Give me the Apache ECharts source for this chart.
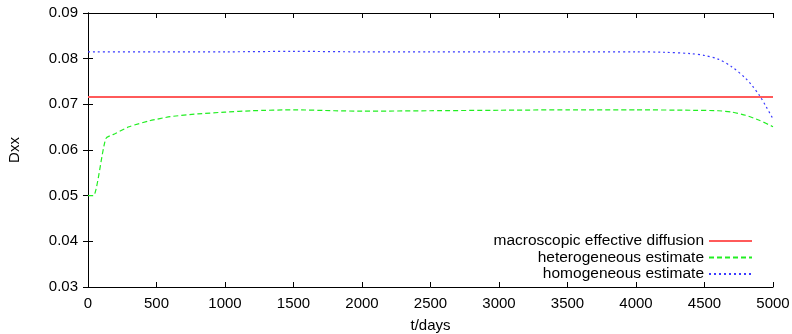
<!DOCTYPE html>
<html>
<head>
<meta charset="utf-8">
<script src="https://cdn.jsdelivr.net/npm/echarts@6/dist/echarts.min.js"></script>
<style>
html, body { margin: 0; padding: 0; background: #fff; }
#chart { width: 792px; height: 334px; }
</style>
</head>
<body>
<div id="chart"></div>
<script>
// macroscopic effective diffusion (constant)
var macroT = [0, 5000];
var macroD = [0.0716, 0.0716];

// heterogeneous estimate
var hetT = [0, 40, 130, 200, 300, 450, 600, 800, 1000, 1200, 1500, 1800, 2000, 2500, 3000, 3500, 4000, 4400, 4600, 4700, 4800, 4900, 5000];
var hetD = [0.0500, 0.0500, 0.0625, 0.0636, 0.0651, 0.0664, 0.0673, 0.0679, 0.0683, 0.0686, 0.0688, 0.0686, 0.0685, 0.0686, 0.0687, 0.0688, 0.0688, 0.0687, 0.0686, 0.0683, 0.0676, 0.0665, 0.0651];

// homogeneous estimate
var homT = [0, 500, 1000, 1500, 2000, 2500, 3000, 3500, 4000, 4200, 4400, 4500, 4600, 4700, 4800, 4850, 4900, 4950, 5000];
var homD = [0.0815, 0.0815, 0.0815, 0.0816, 0.0815, 0.0815, 0.0815, 0.0815, 0.0815, 0.0814, 0.0811, 0.0807, 0.0799, 0.0782, 0.0757, 0.0740, 0.0720, 0.0695, 0.0668];

var seriesNames = ['macroscopic effective diffusion', 'heterogeneous estimate', 'homogeneous estimate'];

function pairs(xs, ys) {
    var out = [];
    for (var i = 0; i < xs.length; i++) {
        out.push([xs[i], ys[i]]);
    }
    return out;
}

var font = 'Liberation Sans, Arial, sans-serif';
var fs = 15;
var axisBase = {
    axisLine: { show: true, lineStyle: { color: '#000', width: 1 } },
    axisTick: { show: true, inside: true, length: 5, lineStyle: { color: '#000' } },
    splitLine: { show: false }
};

var chart = echarts.init(document.getElementById('chart'));

var option = {
    animation: false,
    backgroundColor: '#fff',
    grid: { left: 88, right: 19, top: 13, bottom: 47, outerBoundsMode: 'none', containLabel: false },
    legend: {
        data: seriesNames,
        orient: 'vertical',
        align: 'right',
        right: 39,
        top: 233,
        padding: 0,
        itemWidth: 43,
        itemHeight: 14,
        itemGap: 0.5,
        itemStyle: { opacity: 0 },
        textStyle: { fontFamily: font, fontSize: 15.5, color: '#000' },
        selectedMode: false
    },
    xAxis: [
        Object.assign({}, axisBase, {
            type: 'value',
            min: 0, max: 5000, interval: 500,
            name: 't/days',
            nameLocation: 'middle',
            nameGap: 31,
            nameTextStyle: { fontFamily: font, fontSize: fs, color: '#000' },
            axisLabel: {
                fontFamily: font, fontSize: fs, color: '#000', margin: 9,
                formatter: function (v) { return String(v); }
            }
        }),
        Object.assign({}, axisBase, {
            type: 'value', position: 'top',
            min: 0, max: 5000, interval: 500,
            axisLabel: { show: false }
        })
    ],
    yAxis: [
        Object.assign({}, axisBase, {
            type: 'value',
            min: 0.03, max: 0.09, interval: 0.01,
            name: 'Dxx',
            nameLocation: 'middle',
            nameGap: 66,
            nameTextStyle: { fontFamily: font, fontSize: fs, color: '#000' },
            axisLabel: {
                fontFamily: font, fontSize: fs, color: '#000', margin: 10,
                formatter: function (v) { return v.toFixed(2); }
            }
        }),
        Object.assign({}, axisBase, {
            type: 'value', position: 'right',
            min: 0.03, max: 0.09, interval: 0.01,
            axisLabel: { show: false }
        })
    ],
    series: [
        {
            name: seriesNames[0],
            type: 'line',
            symbol: 'none',
            data: pairs(macroT, macroD),
            color: '#ff3b3b',
            lineStyle: { color: '#ff5a5a', width: 2 }
        },
        {
            name: seriesNames[1],
            type: 'line',
            symbol: 'none',
            data: pairs(hetT, hetD),
            smooth: 0.2,
            color: '#00ee00',
            lineStyle: { color: '#22ee22', width: 1.2, type: [5, 3] }
        },
        {
            name: seriesNames[2],
            type: 'line',
            symbol: 'none',
            data: pairs(homT, homD),
            smooth: 0.3,
            color: '#2222ff',
            lineStyle: { color: '#3a3aff', width: 1.2, type: [2, 3] }
        }
    ]
};

chart.setOption(option);
</script>
</body>
</html>
